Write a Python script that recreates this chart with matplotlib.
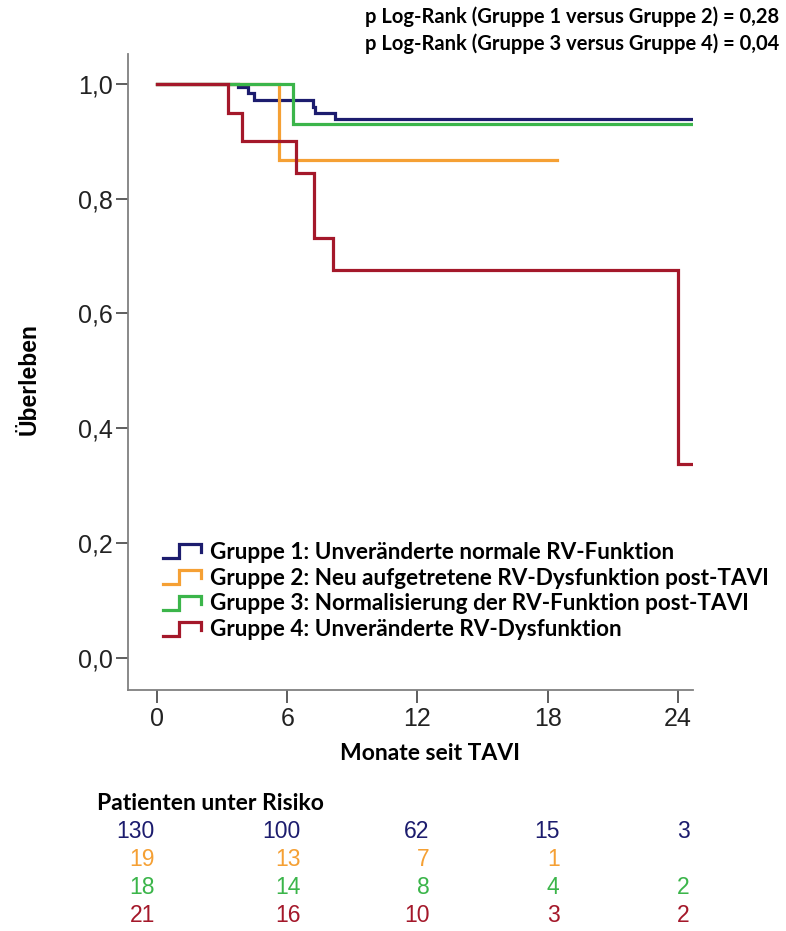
import matplotlib
matplotlib.use('Agg')
import matplotlib.pyplot as plt
from matplotlib.legend_handler import HandlerBase
from matplotlib.lines import Line2D

# Kaplan-Meier Stufen (Monate, Überleben)
g1_t = [0, 3.75, 4.2, 4.45, 7.2, 7.3, 8.2, 24.65]
g1_s = [1.0, 0.994, 0.984, 0.972, 0.960, 0.950, 0.938, 0.938]
g2_t = [0, 5.6, 18.45]
g2_s = [1.0, 0.867, 0.867]
g3_t = [0, 6.27, 24.65]
g3_s = [1.0, 0.930, 0.930]
g4_t = [0, 3.27, 3.9, 6.4, 7.24, 8.1, 24.0, 24.6]
g4_s = [1.0, 0.950, 0.900, 0.845, 0.732, 0.676, 0.338, 0.338]

labels = ['Gruppe 1: Unveränderte normale RV-Funktion',
          'Gruppe 2: Neu aufgetretene RV-Dysfunktion post-TAVI',
          'Gruppe 3: Normalisierung der RV-Funktion post-TAVI',
          'Gruppe 4: Unveränderte RV-Dysfunktion']
colors = ['#1c1c6e', '#f5a034', '#3bb54a', '#a4182a']

risk_times = [0, 6, 12, 18, 24]
risk_g1 = ['130', '100', '62', '15', '3']
risk_g2 = ['19', '13', '7', '1', '']
risk_g3 = ['18', '14', '8', '4', '2']
risk_g4 = ['21', '16', '10', '3', '2']

pvals = ['p Log-Rank (Gruppe 1 versus Gruppe 2) = 0,28',
         'p Log-Rank (Gruppe 3 versus Gruppe 4) = 0,04']

yticks = [0.0, 0.2, 0.4, 0.6, 0.8, 1.0]
ytick_labels = ['0,0', '0,2', '0,4', '0,6', '0,8', '1,0']

BOLD = 'Lato'
ARIAL = 'Liberation Sans'


class StepHandler(HandlerBase):
    def create_artists(self, legend, orig, xd, yd, w, h, fs, trans):
        xs = [0, 0.42 * w, 0.42 * w, w, w]
        ys = [0.05 * h, 0.05 * h, 0.9 * h, 0.9 * h, 0.4 * h]
        xs = [x - xd for x in xs]
        ys = [y - yd for y in ys]
        ln = Line2D(xs, ys, color=orig.get_color(), lw=orig.get_linewidth(),
                    solid_joinstyle='miter', transform=trans)
        return [ln]


fig = plt.figure(figsize=(7.86, 9.31), dpi=100)
ax = fig.add_axes([128 / 786, 1 - 690 / 931, (693 - 128) / 786, (690 - 54) / 931])

lines = []
for t, s, c, lab in zip([g1_t, g2_t, g3_t, g4_t], [g1_s, g2_s, g3_s, g4_s], colors, labels):
    ln, = ax.step(t, s, where='post', color=c, lw=2.3, label=lab,
                  solid_joinstyle='miter')
    lines.append(ln)

ax.set_xlim(-1.34, 24.7)
ax.set_ylim(-0.056, 1.052)
ax.set_xticks(risk_times)
ax.set_yticks(yticks)
ax.set_yticklabels(ytick_labels)
for sp in ['top', 'right']:
    ax.spines[sp].set_visible(False)
for sp in ['left', 'bottom']:
    ax.spines[sp].set_color('#808080')
    ax.spines[sp].set_linewidth(1.3)
ax.tick_params(axis='both', colors='#505050', width=1.3, length=9, labelsize=18,
               labelcolor='#222222')
ax.tick_params(axis='y', pad=2)
for lab in ax.get_xticklabels() + ax.get_yticklabels():
    lab.set_family(ARIAL)

ax.set_ylabel('Überleben', family=ARIAL, fontweight='bold', fontsize=16.5)
ax.yaxis.set_label_coords((41 - 128) / 565, (690 - 379) / 636)
ax.set_xlabel('Monate seit TAVI', family=BOLD, fontweight='bold', fontsize=16.5)
ax.xaxis.set_label_coords((430 - 128) / 565, -(743 - 690) / 636)

leg = fig.legend(handles=lines, loc='center left',
                 bbox_to_anchor=(163 / 786, 1 - 591 / 931),
                 bbox_transform=fig.transFigure, borderpad=0, borderaxespad=0,
                 frameon=False, handlelength=1.7, handletextpad=0.37,
                 labelspacing=0.22, prop={'family': BOLD, 'weight': 'bold', 'size': 16.2},
                 handler_map={Line2D: StepHandler()})

fig.text(365 / 786, 1 - 17 / 931, pvals[0], family=BOLD, fontweight='bold',
         fontsize=14.5, va='center', ha='left')
fig.text(365 / 786, 1 - 44 / 931, pvals[1], family=BOLD, fontweight='bold',
         fontsize=14.5, va='center', ha='left')

fig.text(97 / 786, 1 - 803 / 931, 'Patienten unter Risiko', family=BOLD,
         fontweight='bold', fontsize=16.5, va='center', ha='left')

row_y = [832, 860, 888, 916]
col_off = [-0.1, 0.6, 0.55, 0.55, 0.55]
for rows, c, y in zip([risk_g1, risk_g2, risk_g3, risk_g4], colors, row_y):
    for t, v, off in zip(risk_times, rows, col_off):
        xf = ax.transData.transform((t + off, 0))[0] / fig.bbox.width
        fig.text(xf, 1 - y / 931, v, color=c, family=ARIAL, fontsize=16.5,
                 va='center', ha='right')

fig.savefig('out.png', dpi=100)
